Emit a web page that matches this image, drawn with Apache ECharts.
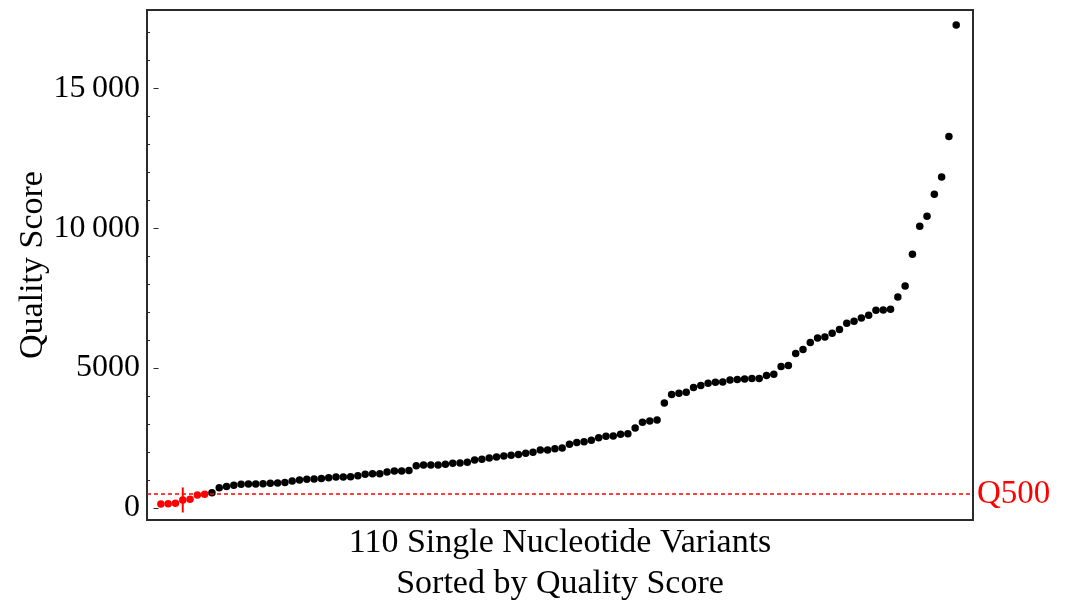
<!DOCTYPE html>
<html>
<head>
<meta charset="utf-8">
<script src="https://cdn.jsdelivr.net/npm/echarts@6/dist/echarts.min.js"></script>
<style>
  html, body { margin: 0; padding: 0; background: #fff; }
  #chart { width: 1066px; height: 608px; }
</style>
</head>
<body>
<div id="chart"></div>
<script>
// quality scores of the 110 variants, sorted ascending
const qualityScores = [
  143, 155, 167, 286, 310, 465, 489, 548, 727, 763,
  811, 846, 858, 858, 870, 882, 894, 906, 965, 1001,
  1025, 1037, 1049, 1084, 1108, 1108, 1120, 1156, 1204, 1227,
  1227, 1287, 1323, 1323, 1335, 1513, 1537, 1537, 1537, 1561,
  1597, 1609, 1633, 1716, 1740, 1788, 1823, 1859, 1883, 1907,
  1954, 1990, 2074, 2074, 2121, 2145, 2276, 2336, 2371, 2419,
  2514, 2562, 2570, 2634, 2657, 2860, 3063, 3110, 3146, 3754,
  4052, 4100, 4136, 4302, 4380, 4460, 4495, 4505, 4576, 4588,
  4610, 4624, 4630, 4731, 4779, 5053, 5089, 5518, 5661, 5911,
  6078, 6113, 6244, 6375, 6602, 6673, 6793, 6888, 7067, 7079,
  7102, 7543, 7937, 9069, 10070, 10428, 11215, 11833, 13274, 17267
];
const threshold = 500;          // Q500 cutoff
const markedVariant = 4;        // position carrying the red tick mark
const yMajorTicks = [0, 5000, 10000, 15000];
const yMinorTicks = [1000, 2000, 3000, 4000, 6000, 7000, 8000, 9000,
  11000, 12000, 13000, 14000, 16000, 17000];

const points = qualityScores.map((v, i) => [i + 1, v]);
const serif = 'Liberation Serif';

const chart = echarts.init(document.getElementById('chart'));
chart.setOption({
  animation: false,
  grid: {
    left: 147, right: 93, top: 10, bottom: 88,
    outerBoundsMode: 'none',
    containLabel: false,
    show: true,
    borderColor: '#2b2b2b',
    borderWidth: 2
  },
  xAxis: {
    type: 'value',
    min: -0.9,
    max: 112.3,
    name: '110 Single Nucleotide Variants\nSorted by Quality Score',
    nameLocation: 'middle',
    nameGap: 3,
    nameMoveOverlap: false,
    nameTextStyle: { fontFamily: serif, fontSize: 34, color: '#000', lineHeight: 41 },
    axisLine: { show: false },
    axisTick: { show: false },
    axisLabel: { show: false },
    splitLine: { show: false }
  },
  yAxis: [
    {
      type: 'value',
      min: -430,
      max: 17800,
      position: 'left',
      name: 'Quality Score',
      nameLocation: 'middle',
      nameGap: 97,
      nameMoveOverlap: false,
      nameTextStyle: { fontFamily: serif, fontSize: 34, color: '#000' },
      axisLine: { show: false },
      splitLine: { show: false },
      axisTick: {
        show: true, inside: true, length: 5,
        customValues: yMajorTicks,
        lineStyle: { color: '#2b2b2b', width: 1 }
      },
      axisLabel: {
        customValues: yMajorTicks,
        margin: 7,
        fontFamily: serif,
        fontSize: 32,
        color: '#000',
        formatter: v => v >= 10000
          ? Math.floor(v / 1000) + '\u2009' + String(v % 1000).padStart(3, '0')
          : String(v)
      }
    },
    {
      type: 'value',
      min: -430,
      max: 17800,
      position: 'left',
      offset: 0,
      axisLine: { show: false },
      splitLine: { show: false },
      axisLabel: { show: false },
      axisTick: {
        show: true, inside: true, length: 3,
        customValues: yMinorTicks,
        lineStyle: { color: '#2b2b2b', width: 1 }
      }
    }
  ],
  series: [
    {
      type: 'scatter',
      data: points,
      symbol: 'circle',
      symbolSize: 7.5,
      itemStyle: {
        opacity: 1,
        color: p => p.value[1] < threshold ? '#ff0000' : '#000000'
      },
      markLine: {
        silent: true,
        symbol: 'none',
        data: [{ yAxis: threshold }],
        lineStyle: { color: '#ff0000', type: [4, 3], width: 1.5 },
        label: {
          show: true,
          position: 'end',
          distance: 4,
          formatter: 'Q' + threshold,
          fontFamily: serif,
          fontSize: 33,
          color: '#ff0000'
        }
      },
      z: 3
    },
    {
      type: 'scatter',
      data: [[markedVariant, qualityScores[markedVariant - 1]]],
      symbol: 'rect',
      symbolSize: [2, 25],
      itemStyle: { color: '#ff0000', opacity: 1 },
      z: 4
    }
  ]
});
</script>
</body>
</html>
